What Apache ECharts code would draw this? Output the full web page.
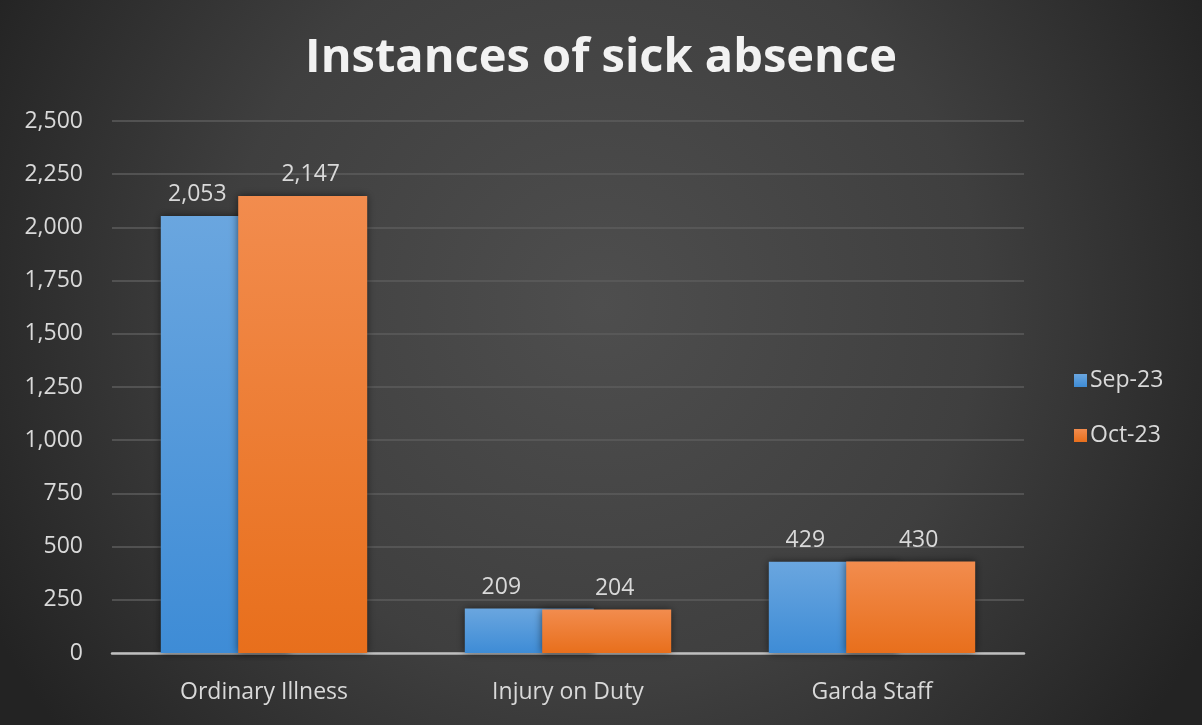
<!DOCTYPE html>
<html>
<head>
<meta charset="utf-8">
<script src="https://cdn.jsdelivr.net/npm/echarts@6/dist/echarts.min.js"></script>
<style>
  html, body { margin: 0; padding: 0; background: #2b2b2b; }
  #chart { width: 1202px; height: 725px; }
</style>
</head>
<body>
<div id="chart"></div>
<script>
// Sick absence instances per category, two months
const categories = ['Ordinary Illness', 'Injury on Duty', 'Garda Staff'];
const sep23 = [2053, 209, 429];
const oct23 = [2147, 204, 430];
const seriesNames = ['Sep-23', 'Oct-23'];

const fmt = v => v.toLocaleString('en-US');

function vGrad(top, bottom) {
  return new echarts.graphic.LinearGradient(0, 0, 0, 1, [
    { offset: 0, color: top },
    { offset: 1, color: bottom }
  ]);
}

const textFont = '"Open Sans", sans-serif';

const chart = echarts.init(document.getElementById('chart'));
chart.setOption({
  animation: false,
  backgroundColor: new echarts.graphic.RadialGradient(0.5, 0.42, 0.95, [
    { offset: 0, color: '#4e4e4e' },
    { offset: 0.55, color: '#3f3f3f' },
    { offset: 1, color: '#232323' }
  ]),
  title: {
    text: 'Instances of sick absence',
    left: 'center',
    top: 30,
    textStyle: {
      color: '#f2f2f2',
      fontFamily: textFont,
      fontWeight: 'bold',
      fontSize: 47
    }
  },
  legend: {
    orient: 'vertical',
    left: 1069,
    top: 364,
    itemWidth: 13,
    itemHeight: 13,
    itemGap: 32,
    icon: 'rect',
    textStyle: { color: '#d9d9d9', fontSize: 23, fontFamily: textFont, padding: [0, 0, 0, -2] },
    data: seriesNames
  },
  grid: { left: 112, right: 178, top: 121, bottom: 72 },
  xAxis: {
    type: 'category',
    data: categories,
    axisLine: { lineStyle: { color: '#bfbfbf', width: 2.5 } },
    axisTick: { show: false },
    axisLabel: { color: '#d9d9d9', fontSize: 23, fontFamily: textFont, margin: 28 }
  },
  yAxis: {
    type: 'value',
    min: 0,
    max: 2500,
    interval: 250,
    axisLine: { show: false },
    axisTick: { show: false },
    splitLine: { lineStyle: { color: '#5c5c5c', width: 1.5 } },
    axisLabel: { color: '#d9d9d9', fontSize: 23, fontFamily: textFont, margin: 29, formatter: fmt }
  },
  series: [
    {
      name: seriesNames[0],
      type: 'bar',
      data: sep23,
      barWidth: 129,
      barGap: '-40%',
      itemStyle: {
        color: vGrad('#6aa6df', '#3e8cd6'),
        shadowColor: 'rgba(0,0,0,0.55)',
        shadowBlur: 8
      },
      label: {
        show: true,
        position: 'top',
        distance: 10,
        offset: [-28, 0],
        color: '#d9d9d9',
        fontSize: 23,
        fontFamily: textFont,
        formatter: p => fmt(p.value)
      }
    },
    {
      name: seriesNames[1],
      type: 'bar',
      data: oct23,
      barWidth: 129,
      itemStyle: {
        color: vGrad('#f28c4e', '#e86f1c'),
        shadowColor: 'rgba(0,0,0,0.55)',
        shadowBlur: 8
      },
      label: {
        show: true,
        position: 'top',
        distance: 10,
        offset: [8, 0],
        color: '#d9d9d9',
        fontSize: 23,
        fontFamily: textFont,
        formatter: p => fmt(p.value)
      }
    }
  ]
});
</script>
</body>
</html>
